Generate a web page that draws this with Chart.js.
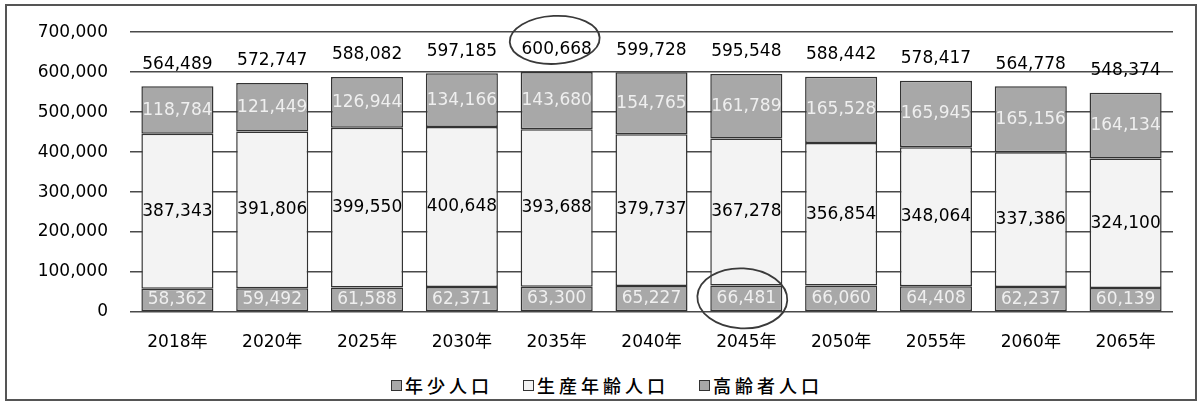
<!DOCTYPE html>
<html lang="ja">
<head>
<meta charset="utf-8">
<script src="https://cdn.jsdelivr.net/npm/chart.js@4"></script>
<style>
  body { margin: 0; background: #fff; }
  #frame {
    position: absolute; left: 5px; top: 4px; width: 1192px; height: 397px;
    border: 2px solid #555; box-sizing: border-box;
  }
  #wrap { position: absolute; left: 0; top: 0; width: 1200px; height: 360px; }
  #legend {
    position: absolute; left: 0; top: 372px; width: 1214px;
    display: flex; justify-content: center; gap: 30px;
    font: 500 18px "Noto Sans CJK JP", sans-serif; letter-spacing: 4px; color: #000;
  }
  #legend span.item { display: flex; align-items: center; }
  #legend span.box {
    display: inline-block; width: 9px; height: 9px; margin-right: 3px;
    border: 1.5px solid #333;
  }
</style>
</head>
<body>
<div id="frame"></div>
<div id="wrap"><canvas id="popChart" width="1200" height="360"></canvas></div>
<div id="legend"></div>
<script>
const years = ['2018年', '2020年', '2025年', '2030年', '2035年', '2040年', '2045年', '2050年', '2055年', '2060年', '2065年'];

// 年少人口
const youth = [58362, 59492, 61588, 62371, 63300, 65227, 66481, 66060, 64408, 62237, 60139];
// 生産年齢人口
const working = [387343, 391806, 399550, 400648, 393688, 379737, 367278, 356854, 348064, 337386, 324100];
// 高齢者人口
const elderly = [118784, 121449, 126944, 134166, 143680, 154765, 161789, 165528, 165945, 165156, 164134];
// 合計
const totals = [564489, 572747, 588082, 597185, 600668, 599728, 595548, 588442, 578417, 564778, 548374];

const seriesNames = ['年少人口', '生産年齢人口', '高齢者人口'];
const fills = ['#a8a8a8', '#f3f3f3', '#a8a8a8'];
const labelColors = ['#efefef', '#000', '#efefef'];

const numFont = '17px "DejaVu Sans", "Noto Sans CJK JP", sans-serif';

// 数値ラベル（各セグメント中央＋合計）と手書きの丸
const valueLabels = {
  id: 'valueLabels',
  afterDatasetsDraw(chart) {
    const ctx = chart.ctx;
    ctx.save();
    ctx.font = numFont;
    ctx.textAlign = 'center';
    ctx.textBaseline = 'middle';
    chart.data.datasets.forEach((ds, i) => {
      chart.getDatasetMeta(i).data.forEach((bar, j) => {
        ctx.fillStyle = labelColors[i];
        ctx.fillText(ds.data[j].toLocaleString('en-US'), bar.x, (bar.y + bar.base) / 2);
      });
    });
    const topMeta = chart.getDatasetMeta(2);
    ctx.fillStyle = '#000';
    topMeta.data.forEach((bar, j) => {
      ctx.fillText(totals[j].toLocaleString('en-US'), bar.x, bar.y - 22);
    });

    // 丸印
    ctx.strokeStyle = '#3a3a3a';
    ctx.lineWidth = 1.8;
    const b1 = topMeta.data[4];
    ctx.beginPath();
    ctx.ellipse(b1.x - 2, b1.y - 32, 45, 24, -0.05, 0, Math.PI * 2);
    ctx.stroke();
    const b2 = chart.getDatasetMeta(0).data[6];
    ctx.beginPath();
    ctx.ellipse(b2.x - 4, (b2.y + b2.base) / 2, 45, 30, 0.05, 0, Math.PI * 2);
    ctx.stroke();
    ctx.restore();
  },
};

const ctx = document.getElementById('popChart').getContext('2d');

new Chart(ctx, {
  type: 'bar',
  data: {
    labels: years,
    datasets: [youth, working, elderly].map((d, i) => ({
      label: seriesNames[i],
      data: d,
      backgroundColor: fills[i],
      borderColor: '#333',
      borderWidth: 1.5,
      borderSkipped: false,
      categoryPercentage: 1,
      barPercentage: 0.76,
    })),
  },
  options: {
    responsive: false,
    animation: false,
    layout: { padding: { left: 30, right: 27, top: 24, bottom: 0 } },
    plugins: {
      legend: { display: false },
      tooltip: { enabled: false },
    },
    scales: {
      x: {
        stacked: true,
        grid: { display: false, drawTicks: false },
        border: { display: false },
        ticks: {
          padding: 20,
          color: '#000',
          font: { family: '"DejaVu Sans", "Noto Sans CJK JP", sans-serif', size: 17 },
        },
        afterFit(scale) { scale.height = 48; },
      },
      y: {
        stacked: true,
        min: 0,
        max: 700000,
        grid: { color: '#4a4a4a', lineWidth: 1.5, drawTicks: false },
        border: { display: false },
        ticks: {
          stepSize: 100000,
          padding: 22,
          color: '#000',
          font: { family: '"DejaVu Sans", sans-serif', size: 17 },
          callback: (v) => v.toLocaleString('en-US'),
        },
        afterFit(scale) { scale.width = 100; },
      },
    },
  },
  plugins: [valueLabels],
});

// 凡例
const legend = document.getElementById('legend');
seriesNames.forEach((name, i) => {
  const item = document.createElement('span');
  item.className = 'item';
  const box = document.createElement('span');
  box.className = 'box';
  box.style.backgroundColor = fills[i];
  const text = document.createElement('span');
  text.textContent = name;
  item.appendChild(box);
  item.appendChild(text);
  legend.appendChild(item);
});
</script>
</body>
</html>
